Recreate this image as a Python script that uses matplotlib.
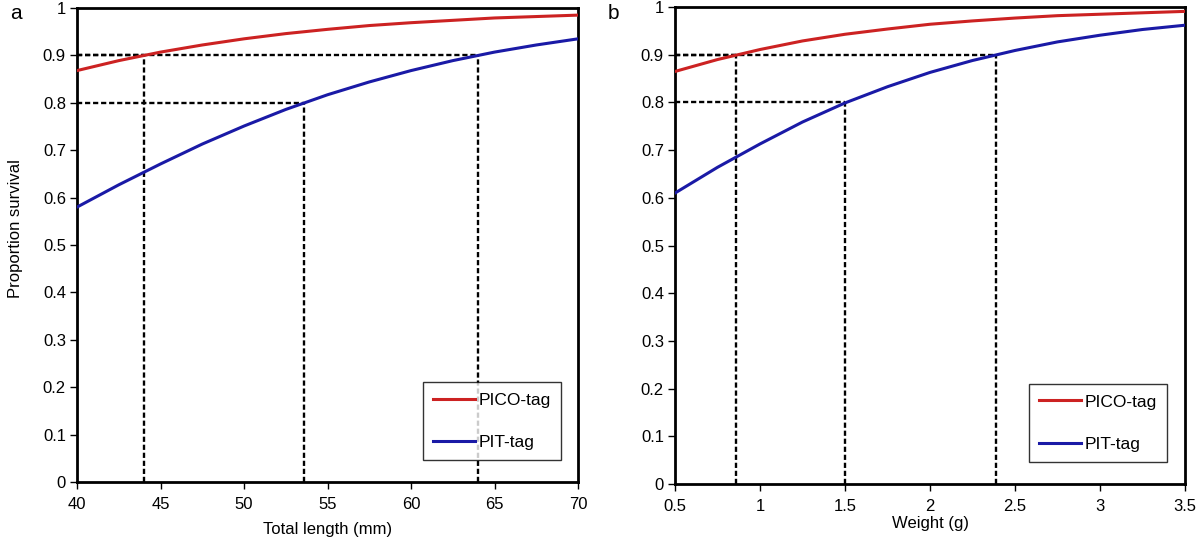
import matplotlib
matplotlib.use("Agg")
import matplotlib.pyplot as plt

plt.rcParams["font.family"] = ["Liberation Sans", "DejaVu Sans"]

# panel a: total length (mm)
length = [40, 42.5, 45, 47.5, 50, 52.5, 55, 57.5, 60, 62.5, 65, 67.5, 70]
pico_len = [0.868, 0.889, 0.907, 0.922, 0.935, 0.946, 0.955, 0.963, 0.969, 0.974, 0.979, 0.982, 0.985]
pit_len = [0.580, 0.627, 0.671, 0.713, 0.751, 0.786, 0.817, 0.844, 0.868, 0.889, 0.907, 0.922, 0.935]
# reference lines: (x where curve crosses, survival level)
ref_len = [(44.0, 0.9), (53.6, 0.8), (64.0, 0.9)]

# panel b: weight (g)
weight = [0.5, 0.75, 1.0, 1.25, 1.5, 1.75, 2.0, 2.25, 2.5, 2.75, 3.0, 3.25, 3.5]
pico_wt = [0.865, 0.890, 0.911, 0.929, 0.943, 0.954, 0.964, 0.971, 0.977, 0.982, 0.985, 0.988, 0.991]
pit_wt = [0.610, 0.664, 0.713, 0.759, 0.799, 0.833, 0.863, 0.888, 0.909, 0.927, 0.941, 0.953, 0.962]
ref_wt = [(0.86, 0.9), (1.5, 0.8), (2.39, 0.9)]

yticks = [0, 0.1, 0.2, 0.3, 0.4, 0.5, 0.6, 0.7, 0.8, 0.9, 1]
ytick_labels = ["0", "0.1", "0.2", "0.3", "0.4", "0.5", "0.6", "0.7", "0.8", "0.9", "1"]

fig = plt.figure(figsize=(12, 5.45), dpi=100)
ax1 = fig.add_axes([0.0642, 0.1156, 0.4175, 0.8697])
ax2 = fig.add_axes([0.5625, 0.112, 0.425, 0.875])


def draw_panel(ax, x, pico, pit, refs, xticks, xlabels, xlabel, xlabelpad, leg_anchor):
    x0 = x[0]
    for xr, yr in refs:
        ax.plot([x0, xr], [yr, yr], color="black", ls=(0, (2.2, 1.2)), lw=1.7, zorder=2)
        ax.plot([xr, xr], [0, yr], color="black", ls=(0, (2.2, 1.2)), lw=1.7, zorder=2)
    ax.plot(x, pico, color="#cc2222", lw=2.2, label="PICO-tag", zorder=3)
    ax.plot(x, pit, color="#1a1aa6", lw=2.2, label="PIT-tag", zorder=3)
    ax.set_xlim(x[0], x[-1])
    ax.set_ylim(0, 1)
    ax.set_yticks(yticks)
    ax.set_yticklabels(ytick_labels)
    ax.set_xticks(xticks)
    ax.set_xticklabels(xlabels)
    ax.tick_params(direction="out", length=5, width=1, labelsize=12, pad=3)
    ax.tick_params(axis="x", pad=6)
    for sp in ax.spines.values():
        sp.set_linewidth(2)
    ax.set_xlabel(xlabel, fontsize=12, labelpad=xlabelpad)
    leg = ax.legend(loc="lower right", bbox_to_anchor=leg_anchor,
                    fontsize=12.5, frameon=True, fancybox=False, edgecolor="black",
                    handlelength=2.4, handletextpad=0.2, labelspacing=1.55,
                    borderpad=0.6, borderaxespad=0)
    leg.get_frame().set_linewidth(1)


draw_panel(ax1, length, pico_len, pit_len, ref_len,
           [40, 45, 50, 55, 60, 65, 70], ["40", "45", "50", "55", "60", "65", "70"],
           "Total length (mm)", 7, (0.966, 0.046))
draw_panel(ax2, weight, pico_wt, pit_wt, ref_wt,
           [0.5, 1, 1.5, 2, 2.5, 3, 3.5], ["0.5", "1", "1.5", "2", "2.5", "3", "3.5"],
           "Weight (g)", 1, (0.965, 0.046))

fig.text(16 / 1200, 1 - 229 / 545, "Proportion survival", rotation=90,
         ha="center", va="center", fontsize=12)
fig.text(10 / 1200, 1 - 4 / 545, "a", ha="left", va="top", fontsize=15)
fig.text(608 / 1200, 1 - 4 / 545, "b", ha="left", va="top", fontsize=15)

fig.savefig("out.png", dpi=100)
